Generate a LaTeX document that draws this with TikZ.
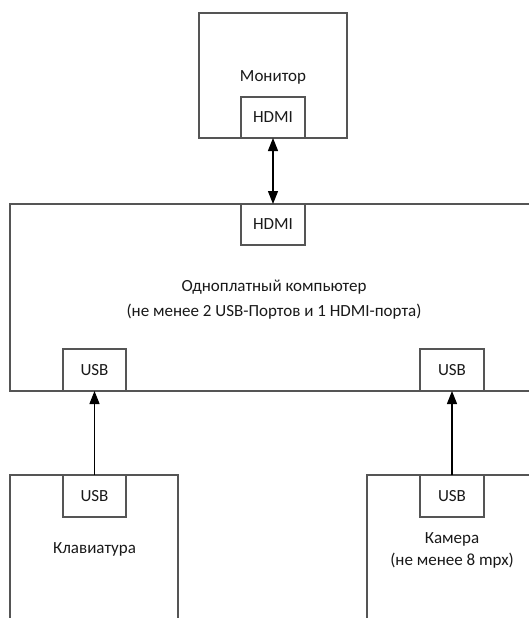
\documentclass[tikz,border=0pt]{standalone}
\usepackage{fontspec}
\setmainfont{Carlito}
\usetikzlibrary{arrows.meta}
\definecolor{edge}{RGB}{85,85,85}
\definecolor{ink}{RGB}{25,25,25}
\tikzset{
  porttip/.tip={Triangle[length=13pt, width=10pt]},
  unitbox/.style={draw=edge, line width=1.3pt, fill=white, inner sep=0pt, outer sep=0pt},
  portbox/.style={draw=edge, line width=1.3pt, fill=white, inner sep=0pt, outer sep=0pt,
    minimum width=64pt, minimum height=42pt, font=\fontsize{17}{20}\selectfont, text=ink},
  caption/.style={align=center, font=\fontsize{17}{24.5}\selectfont, text=ink, inner sep=0pt},
  link/.style={draw=black, line width=1.2pt}
}
\begin{document}
\begin{tikzpicture}[x=1pt, y=-1pt]
\useasboundingbox (0,0) rectangle (529,618);
\clip (0,0) rectangle (529,618);

% monitor
\node[unitbox, minimum width=148pt, minimum height=125pt] (mon) at (273,75.5) {};
\node[caption] (montext) at (273,77) {Монитор};
\node[portbox, minimum height=41pt] (monhdmi) at (273,117.5) {HDMI};

% single-board computer (runs past the right edge)
\node[unitbox, minimum width=540pt, minimum height=187pt] (pc) at (280,297.5) {};
\node[portbox, minimum height=41pt] (pchdmi) at (273,224.5) {HDMI};
\node[caption] (pctext) at (274,299.5) {Одноплатный компьютер\\(не менее 2 USB-Портов и 1 HDMI-порта)};
\node[portbox, minimum width=63pt] (pcusbl) at (94.5,370) {USB};
\node[portbox] (pcusbr) at (452,370) {USB};

% keyboard (runs past the bottom edge)
\node[unitbox, minimum width=168pt, minimum height=165pt] (kbd) at (94,557.5) {};
\node[portbox, minimum width=63pt] (kbdusb) at (94.5,496) {USB};
\node[caption] (kbdtext) at (94.5,549) {Клавиатура};

% camera (runs past the right and bottom edges)
\node[unitbox, minimum width=180pt, minimum height=165pt] (cam) at (457,557.5) {};
\node[portbox] (camusb) at (452,496) {USB};
\node[caption, font=\fontsize{17}{22}\selectfont] (camtext) at (452,550) {Камера\\(не менее 8 mpx)};

% connections
\draw[link, porttip-porttip] (monhdmi.south) -- (pchdmi.north);
\draw[link, -porttip] (kbdusb.north) -- (pcusbl.south);
\draw[link, -porttip] (camusb.north) -- (pcusbr.south);
\end{tikzpicture}
\end{document}
